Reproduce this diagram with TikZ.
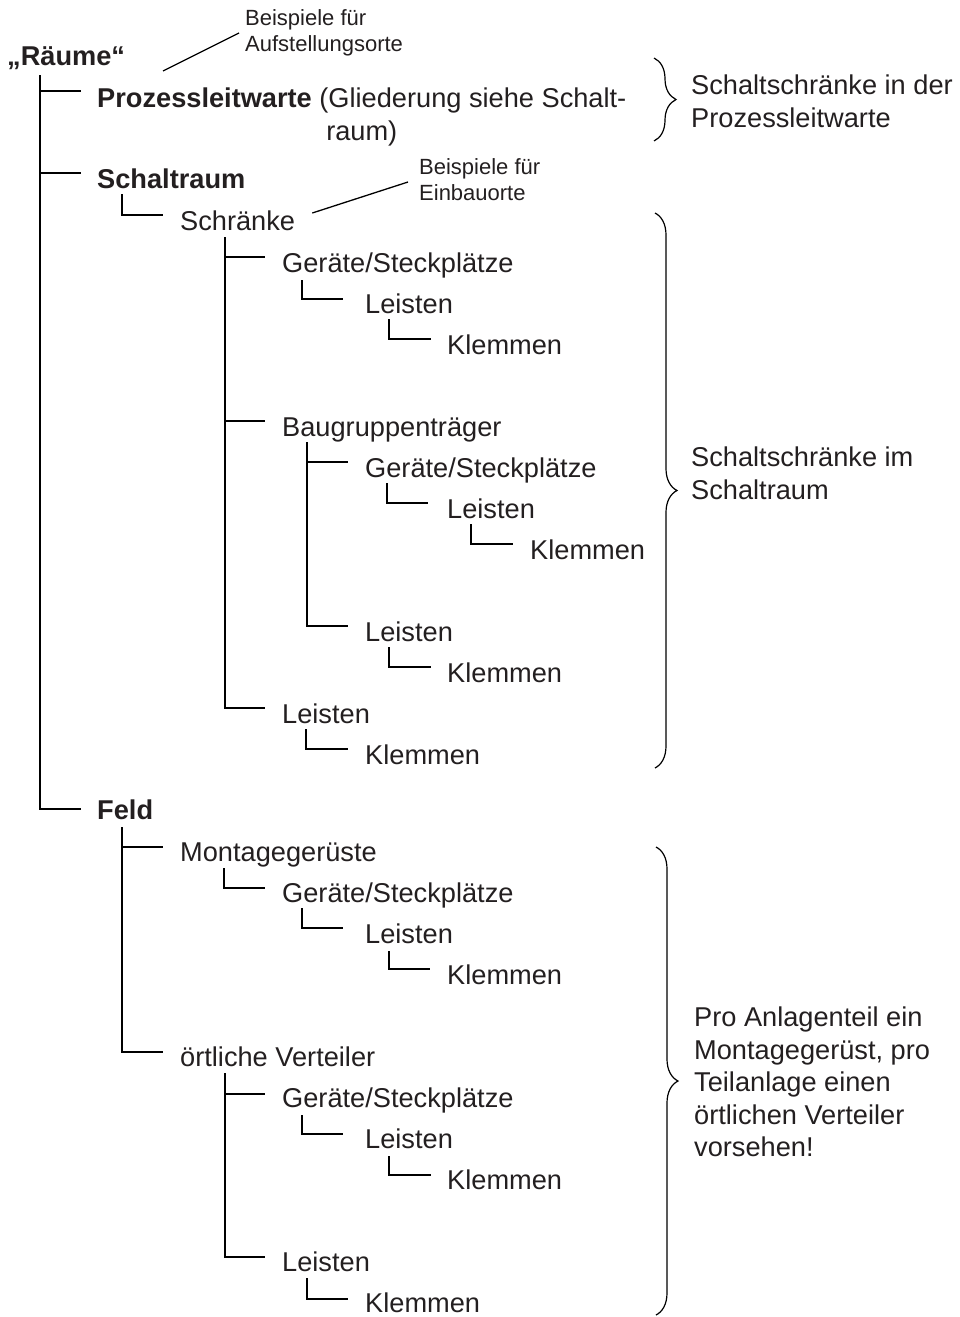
\documentclass[tikz,border=0pt]{standalone}
\usepackage{fontspec}
\setmainfont{Liberation Sans}
\usetikzlibrary{decorations.pathreplacing}
\definecolor{txt}{RGB}{35,31,32}
\newcommand\bigf{\fontsize{27.2}{32}\selectfont}
\newcommand\smallf{\fontsize{22}{26}\selectfont}
\newcommand\conn[6]{\draw[treeline] ([xshift=#2pt,yshift=-#3pt]#1.base west) |- ([xshift=-#5pt,yshift=#6pt]#4.base west);}
\tikzset{
  lbl/.style={anchor=base west, inner sep=0pt, text=txt, font=\bigf},
  boldlbl/.style={lbl, font=\bigf\bfseries},
  annlbl/.style={anchor=base west, inner sep=0pt, text=txt, font=\smallf},
  treeline/.style={draw=black, line width=2.2pt, line join=miter},
  annline/.style={draw=black, line width=1.3pt},
  bracestyle/.style={draw=black, line width=1.2pt, decorate, decoration={brace, amplitude=22pt}}
}
\begin{document}
\begin{tikzpicture}[x=1pt, y=-1pt]
\useasboundingbox (0,0) rectangle (959,1317);
% tree labels
\node[boldlbl] (raeume) at (7,65) {„Räume“};
\node[annlbl] (ann1a) at (245,25) {Beispiele für};
\node[annlbl] (ann1b) at (245,51) {Aufstellungsorte};
\node[lbl] (prl) at (97,107) {\textbf{Prozessleitwarte} (Gliederung siehe Schalt-};
\node[lbl, anchor=base] (prl2) at ([yshift=-33pt]prl.base) {raum)};
\node[boldlbl] (schaltraum) at (97,188) {Schaltraum};
\node[annlbl] (ann2a) at (419,174) {Beispiele für};
\node[annlbl] (ann2b) at (419,200) {Einbauorte};
\node[lbl] (schraenke) at (180,230) {Schränke};
\node[lbl] (gA) at (282,272) {Geräte/Steckplätze};
\node[lbl] (lA) at (365,313) {Leisten};
\node[lbl] (kA) at (447,354) {Klemmen};
\node[lbl] (bgt) at (282,436) {Baugruppenträger};
\node[lbl] (gB) at (365,477) {Geräte/Steckplätze};
\node[lbl] (lB) at (447,518) {Leisten};
\node[lbl] (kB) at (530,559) {Klemmen};
\node[lbl] (lC) at (365,641) {Leisten};
\node[lbl] (kC) at (447,682) {Klemmen};
\node[lbl] (lD) at (282,723) {Leisten};
\node[lbl] (kD) at (365,764) {Klemmen};
\node[boldlbl] (feld) at (97,819) {Feld};
\node[lbl] (mg) at (180,861) {Montagegerüste};
\node[lbl] (gE) at (282,902) {Geräte/Steckplätze};
\node[lbl] (lE) at (365,943) {Leisten};
\node[lbl] (kE) at (447,984) {Klemmen};
\node[lbl] (ov) at (180,1066) {örtliche Verteiler};
\node[lbl] (gF) at (282,1107) {Geräte/Steckplätze};
\node[lbl] (lF) at (365,1148) {Leisten};
\node[lbl] (kF) at (447,1189) {Klemmen};
\node[lbl] (lG) at (282,1271) {Leisten};
\node[lbl] (kG) at (365,1312) {Klemmen};
% brace texts
\node[lbl] (b1a) at (691,94) {Schaltschränke in der};
\node[lbl] (b1b) at (691,127) {Prozessleitwarte};
\node[lbl] (b2a) at (691,466) {Schaltschränke im};
\node[lbl] (b2b) at (691,499) {Schaltraum};
\node[lbl] (b3a) at (694,1026) {Pro Anlagenteil ein};
\node[lbl] (b3b) at (694,1059) {Montagegerüst, pro};
\node[lbl] (b3c) at (694,1091) {Teilanlage einen};
\node[lbl] (b3d) at (694,1124) {örtlichen Verteiler};
\node[lbl] (b3e) at (694,1156) {vorsehen!};
% connectors
\conn{raeume}{33}{10}{prl}{16}{16}
\conn{raeume}{33}{10}{schaltraum}{16}{15}
\conn{raeume}{33}{10}{feld}{16}{10}
\conn{schaltraum}{25}{6}{schraenke}{17}{15}
\conn{schraenke}{45}{7}{gA}{17}{15}
\conn{schraenke}{45}{7}{bgt}{17}{15}
\conn{schraenke}{45}{7}{lD}{17}{15}
\conn{gA}{20}{8}{lA}{22}{14}
\conn{lA}{24}{6}{kA}{16}{15}
\conn{bgt}{25}{6}{gB}{17}{15}
\conn{bgt}{25}{6}{lC}{17}{15}
\conn{gB}{22}{6}{lB}{19}{15}
\conn{lB}{24}{6}{kB}{17}{15}
\conn{lC}{24}{6}{kC}{16}{15}
\conn{lD}{24}{6}{kD}{17}{15}
\conn{feld}{25}{8}{mg}{17}{14}
\conn{feld}{25}{8}{ov}{17}{14}
\conn{mg}{44}{7}{gE}{17}{14}
\conn{gE}{20}{6}{lE}{22}{15}
\conn{lE}{24}{8}{kE}{17}{15}
\conn{ov}{45}{7}{gF}{17}{13}
\conn{ov}{45}{7}{lG}{17}{14}
\conn{gF}{20}{8}{lF}{22}{14}
\conn{lF}{24}{8}{kF}{16}{14}
\conn{lG}{25}{7}{kG}{17}{13}
% annotation lines
\draw[annline] ([xshift=66pt,yshift=36pt]prl.base west) -- ([xshift=-6pt,yshift=-8pt]ann1a.base west);
\draw[annline] ([xshift=17pt,yshift=17pt]schraenke.base east) -- ([xshift=-11pt,yshift=-8pt]ann2a.base west);
% braces
\coordinate (br1t) at (654,58);
\coordinate (br1b) at (654,141);
\coordinate (br2t) at (655,213);
\coordinate (br2b) at (655,768);
\coordinate (br3t) at (656,847);
\coordinate (br3b) at (656,1315);
\draw[bracestyle] (br1t) -- (br1b);
\draw[bracestyle] (br2t) -- (br2b);
\draw[bracestyle] (br3t) -- (br3b);
\end{tikzpicture}
\end{document}
